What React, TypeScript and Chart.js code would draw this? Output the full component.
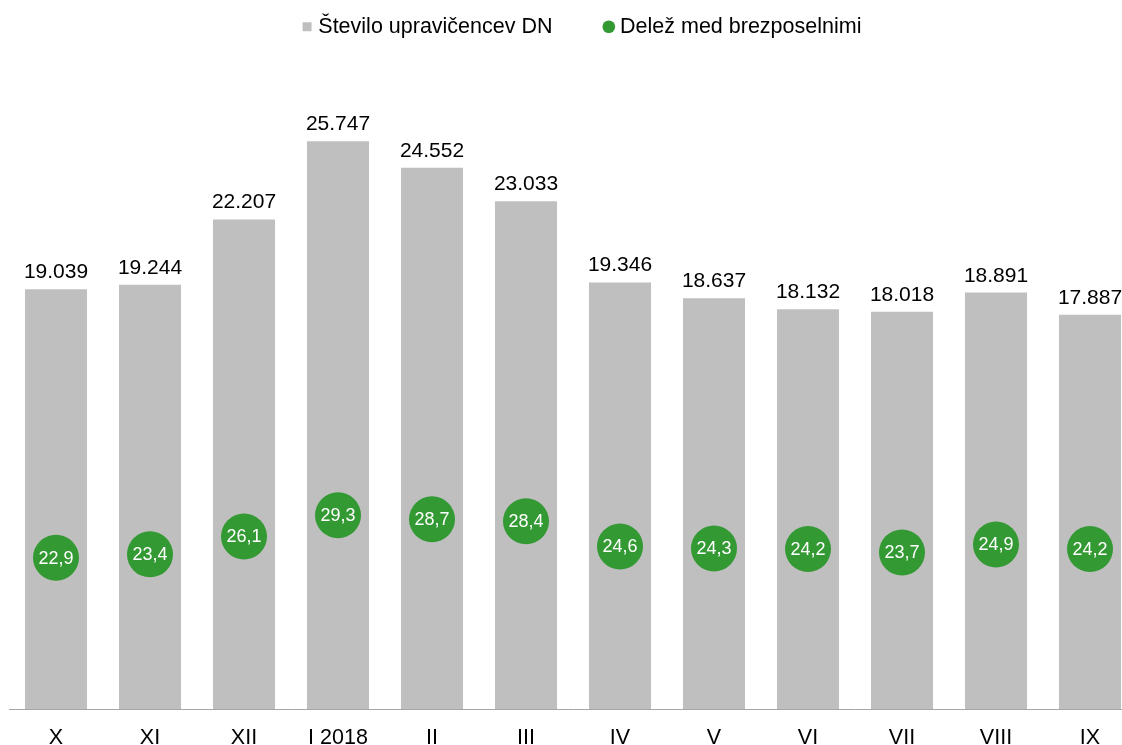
import React, { useEffect, useRef } from 'react';
import { Chart, registerables } from 'chart.js';

Chart.register(...registerables);

const categories = ['X', 'XI', 'XII', 'I 2018', 'II', 'III', 'IV', 'V', 'VI', 'VII', 'VIII', 'IX'];
const recipients = [19039, 19244, 22207, 25747, 24552, 23033, 19346, 18637, 18132, 18018, 18891, 17887];
const shareUnemployed = [22.9, 23.4, 26.1, 29.3, 28.7, 28.4, 24.6, 24.3, 24.2, 23.7, 24.9, 24.2];
const seriesNames = ['Število upravičencev DN', 'Delež med brezposelnimi'];

const FONT = '"Liberation Sans", Arial, sans-serif';
const GREY = '#BFBFBF';
const GREEN = '#339933';
const LEGEND_GAP_SPACES = '        ';
const LEGEND_SHIFT = 11;

function fmtThousands(v: number): string {
  return Math.round(v).toString().replace(/\B(?=(\d{3})+(?!\d))/g, '.');
}
function fmtDecimal(v: number): string {
  return v.toFixed(1).replace('.', ',');
}

const valueLabels = {
  id: 'valueLabels',
  afterDatasetsDraw(chart: any) {
    const ctx = chart.ctx;
    ctx.save();
    chart.data.datasets.forEach((ds: any, di: number) => {
      const meta = chart.getDatasetMeta(di);
      meta.data.forEach((el: any, i: number) => {
        const v = ds.data[i];
        ctx.textAlign = 'center';
        if (meta.type === 'bar') {
          ctx.font = `21px ${FONT}`;
          ctx.fillStyle = '#000';
          ctx.textBaseline = 'alphabetic';
          ctx.fillText(fmtThousands(v), el.x, el.y - 11);
        } else {
          ctx.font = `18px ${FONT}`;
          ctx.fillStyle = '#fff';
          ctx.textBaseline = 'middle';
          ctx.fillText(fmtDecimal(v), el.x, el.y + 1);
        }
      });
    });
    ctx.restore();
  },
};

const legendShift = {
  id: 'legendShift',
  afterLayout(chart: any) {
    if (chart.legend && LEGEND_SHIFT) {
      chart.legend.left += LEGEND_SHIFT;
      chart.legend.right += LEGEND_SHIFT;
    }
  },
};

export default function App() {
  const ref = useRef<HTMLCanvasElement>(null);

  useEffect(() => {
    const canvas = ref.current;
    if (!canvas) return;
    const chart = new Chart(canvas, {
      type: 'bar',
      data: {
        labels: categories,
        datasets: [
          {
            type: 'line',
            label: seriesNames[1],
            data: shareUnemployed,
            yAxisID: 'y2',
            showLine: false,
            backgroundColor: GREEN,
            borderColor: GREEN,
            borderWidth: 0,
            pointRadius: 23,
            pointHoverRadius: 23,
            pointBackgroundColor: GREEN,
            pointBorderWidth: 0,
            pointStyle: 'circle',
          } as any,
          {
            type: 'bar',
            label: seriesNames[0],
            data: recipients,
            yAxisID: 'y',
            backgroundColor: GREY,
            borderWidth: 0,
            categoryPercentage: 1,
            barPercentage: 0.66,
          },
        ],
      },
      options: {
        animation: false,
        responsive: false,
        events: [],
        layout: { padding: { left: 1, right: 1, top: 0, bottom: 0 } },
        plugins: {
          tooltip: { enabled: false },
          legend: {
            position: 'top',
            reverse: true,
            labels: {
              usePointStyle: true,
              boxWidth: 1,
              boxHeight: 9,
              padding: 8,
              color: '#000',
              font: { size: 21.5, family: FONT },
              generateLabels: (ch: any) =>
                ch.data.datasets.map((ds: any, i: number) => ({
                  text: ds.type === 'bar' ? ds.label + LEGEND_GAP_SPACES : ds.label,
                  fillStyle: ds.type === 'bar' ? GREY : GREEN,
                  strokeStyle: ds.type === 'bar' ? GREY : GREEN,
                  lineWidth: 0,
                  pointStyle: ds.type === 'bar' ? 'rect' : 'circle',
                  hidden: false,
                  datasetIndex: i,
                  fontColor: '#000',
                })),
            },
          },
        },
        scales: {
          x: {
            offset: true,
            grid: { display: false, drawTicks: false },
            border: { display: true, color: '#A6A6A6', width: 1 },
            ticks: {
              color: '#000',
              font: { size: 21.5, family: FONT },
              padding: 16,
              maxRotation: 0,
              autoSkip: false,
            },
          },
          y: { display: false, min: 0, max: 30000 },
          y2: { display: false, min: 0, max: 100, position: 'right' },
        },
      },
      plugins: [valueLabels, legendShift],
    } as any);
    return () => chart.destroy();
  }, []);

  return (
    <div
      style={{
        position: 'fixed',
        left: 0,
        top: 0,
        width: 1122,
        height: 745,
        overflow: 'hidden',
        background: '#fff',
      }}
    >
      <canvas
        ref={ref}
        width={1174}
        height={759}
        style={{ position: 'absolute', left: -14, top: 8, display: 'block', width: 1174, height: 759 }}
      />
    </div>
  );
}
